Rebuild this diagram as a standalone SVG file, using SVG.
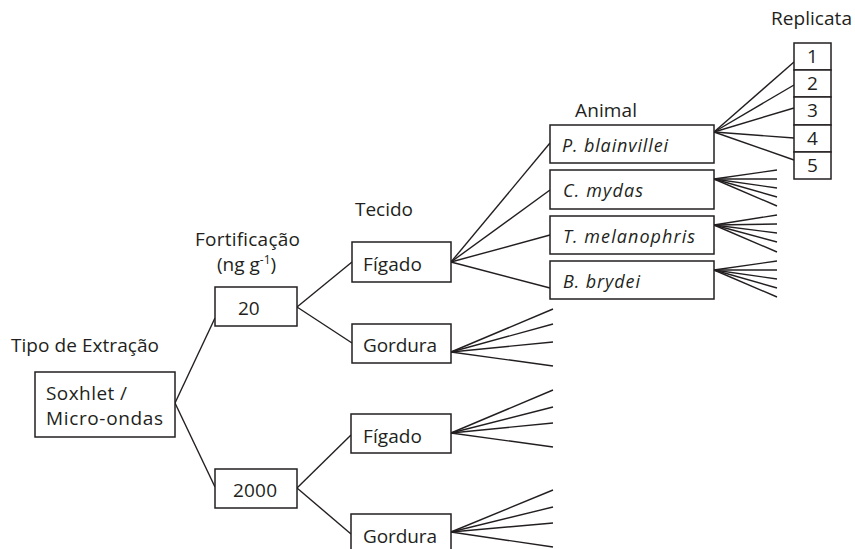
<svg xmlns="http://www.w3.org/2000/svg" width="855" height="549" viewBox="0 0 855 549">
<style>
.b{fill:#fff;stroke:#231f20;stroke-width:1.5}
.t{font-family:"Open Sans","Noto Sans",sans-serif;font-size:19px;fill:#231f20}
.i{font-style:italic;font-size:18px}
.c line{stroke:#231f20;stroke-width:1.4}
</style>
<rect width="855" height="549" fill="#fff"/>
<g id="labels">
<text class="t" x="11" y="352" textLength="148">Tipo de Extração</text>
<text class="t" x="195" y="246" textLength="105">Fortificação</text>
<text class="t" x="217" y="271">(ng g<tspan font-size="12" dy="-7">-1</tspan><tspan dy="7">)</tspan></text>
<text class="t" x="355" y="216" textLength="58">Tecido</text>
<text class="t" x="575" y="117" textLength="62">Animal</text>
<text class="t" x="771" y="25" textLength="81">Replicata</text>
</g>
<g class="c" id="connectors">
<line x1="175" y1="403" x2="215" y2="318"/>
<line x1="175" y1="403" x2="215" y2="487"/>
<line x1="297" y1="307" x2="352" y2="262"/>
<line x1="297" y1="307" x2="352" y2="343"/>
<line x1="297" y1="488" x2="351" y2="435"/>
<line x1="297" y1="488" x2="351" y2="534"/>
<line x1="451" y1="262" x2="550" y2="143"/>
<line x1="451" y1="262" x2="550" y2="190"/>
<line x1="451" y1="262" x2="550" y2="235"/>
<line x1="451" y1="262" x2="550" y2="288"/>
<line x1="451" y1="352" x2="553" y2="309"/>
<line x1="451" y1="352" x2="553" y2="324"/>
<line x1="451" y1="352" x2="553" y2="342"/>
<line x1="451" y1="352" x2="553" y2="366"/>
<line x1="451" y1="433" x2="553" y2="390"/>
<line x1="451" y1="433" x2="553" y2="407"/>
<line x1="451" y1="433" x2="553" y2="423"/>
<line x1="451" y1="433" x2="553" y2="447"/>
<line x1="451" y1="532" x2="553" y2="490"/>
<line x1="451" y1="532" x2="553" y2="507"/>
<line x1="451" y1="532" x2="553" y2="523"/>
<line x1="451" y1="532" x2="553" y2="547"/>
<line x1="714" y1="132" x2="794" y2="62"/>
<line x1="714" y1="132" x2="794" y2="85"/>
<line x1="714" y1="132" x2="794" y2="108"/>
<line x1="714" y1="132" x2="794" y2="138"/>
<line x1="714" y1="132" x2="794" y2="160"/>
<line x1="714" y1="179" x2="777" y2="170"/>
<line x1="714" y1="179" x2="777" y2="179"/>
<line x1="714" y1="179" x2="777" y2="188"/>
<line x1="714" y1="179" x2="777" y2="197"/>
<line x1="714" y1="179" x2="777" y2="206"/>
<line x1="714" y1="225" x2="777" y2="215"/>
<line x1="714" y1="225" x2="777" y2="224"/>
<line x1="714" y1="225" x2="777" y2="233"/>
<line x1="714" y1="225" x2="777" y2="242"/>
<line x1="714" y1="225" x2="777" y2="252"/>
<line x1="714" y1="270" x2="777" y2="261"/>
<line x1="714" y1="270" x2="777" y2="270"/>
<line x1="714" y1="270" x2="777" y2="279"/>
<line x1="714" y1="270" x2="777" y2="288"/>
<line x1="714" y1="270" x2="777" y2="297"/>
</g>
<g id="n-extracao"><rect class="b" x="35" y="372" width="140" height="65"/><text class="t" x="46" y="400" textLength="81">Soxhlet /</text><text class="t" x="46" y="425" textLength="117">Micro-ondas</text></g>
<g id="n-20"><rect class="b" x="215" y="287" width="82" height="39"/><text class="t" x="238" y="315">20</text></g>
<g id="n-2000"><rect class="b" x="215" y="469" width="82" height="39"/><text class="t" x="233" y="497" textLength="44">2000</text></g>
<g id="n-figado1"><rect class="b" x="352" y="242" width="99" height="40"/><text class="t" x="363" y="271" textLength="59">Fígado</text></g>
<g id="n-gordura1"><rect class="b" x="352" y="324" width="99" height="39"/><text class="t" x="363" y="352" textLength="74">Gordura</text></g>
<g id="n-figado2"><rect class="b" x="351" y="414" width="100" height="39"/><text class="t" x="363" y="443" textLength="59">Fígado</text></g>
<g id="n-gordura2"><rect class="b" x="351" y="514" width="100" height="40"/><text class="t" x="363" y="543" textLength="74">Gordura</text></g>
<g id="n-pb"><rect class="b" x="550" y="125" width="164" height="38"/><text class="t i" x="562" y="152" textLength="106">P. blainvillei</text></g>
<g id="n-cm"><rect class="b" x="550" y="170" width="164" height="39"/><text class="t i" x="563" y="197" textLength="80">C. mydas</text></g>
<g id="n-tm"><rect class="b" x="550" y="216" width="164" height="38"/><text class="t i" x="563" y="243" textLength="132">T. melanophris</text></g>
<g id="n-bb"><rect class="b" x="550" y="261" width="164" height="38"/><text class="t i" x="563" y="288" textLength="77">B. brydei</text></g>
<g id="n-rep">
<rect class="b" x="794" y="43" width="37" height="27"/><text class="t" x="812.5" y="63" text-anchor="middle">1</text>
<rect class="b" x="794" y="70" width="37" height="27"/><text class="t" x="812.5" y="90" text-anchor="middle">2</text>
<rect class="b" x="794" y="97" width="37" height="28"/><text class="t" x="812.5" y="117" text-anchor="middle">3</text>
<rect class="b" x="794" y="125" width="37" height="27"/><text class="t" x="812.5" y="145" text-anchor="middle">4</text>
<rect class="b" x="794" y="152" width="37" height="27"/><text class="t" x="812.5" y="172" text-anchor="middle">5</text>
</g>
</svg>
